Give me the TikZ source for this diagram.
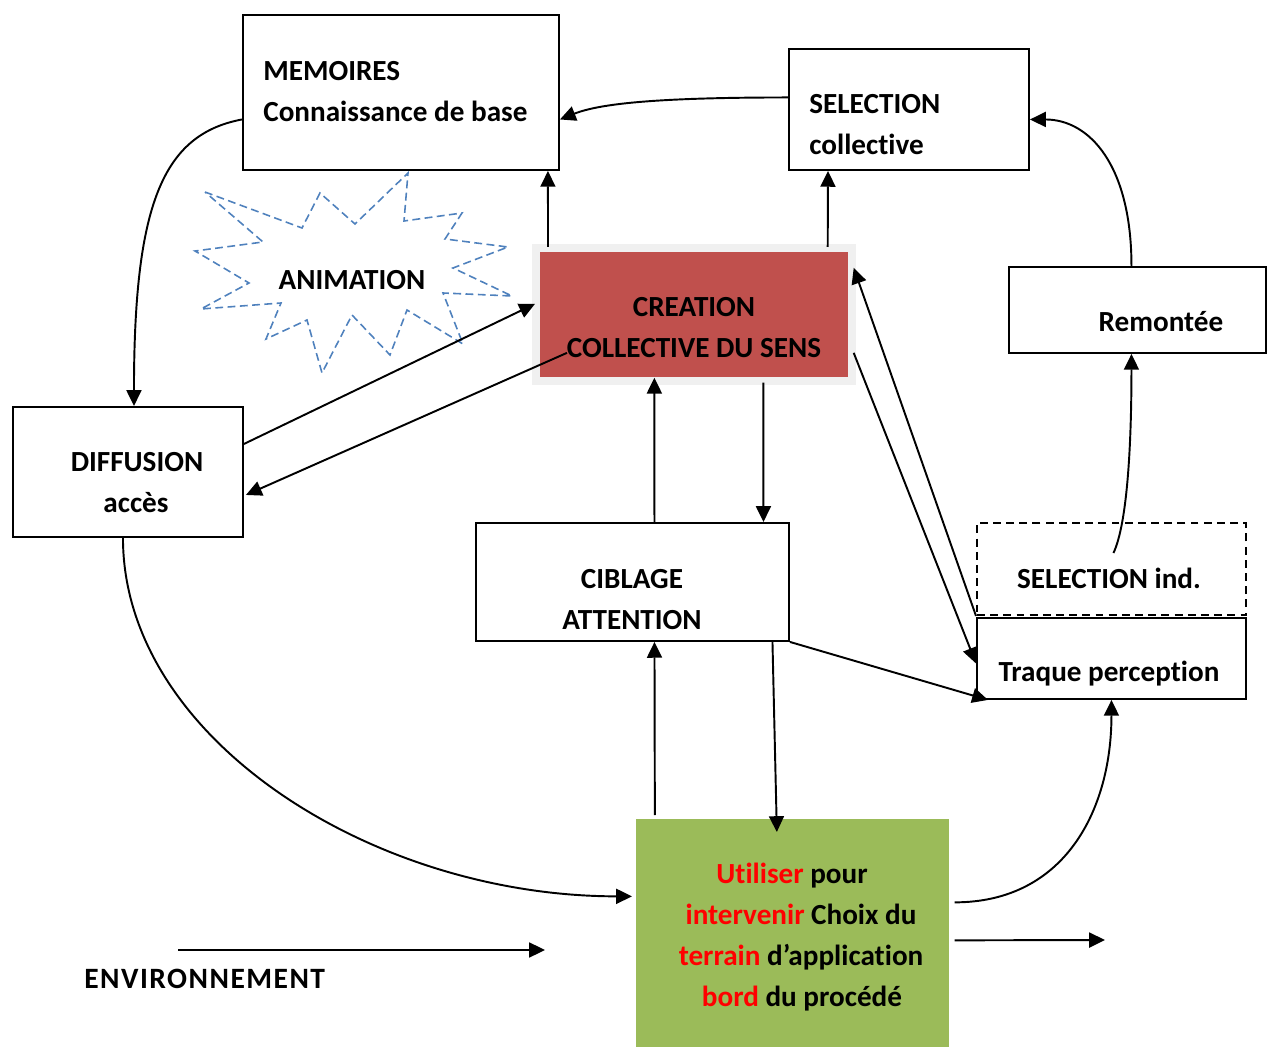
\documentclass[tikz,border=0pt]{standalone}
\usepackage{fontspec}
\setmainfont{Carlito}[Ligatures=CommonOff]
\newfontfamily\widefont{Carlito}[Ligatures=CommonOff, LetterSpace=5]
\usetikzlibrary{arrows.meta}
\definecolor{boxred}{HTML}{C0504D}
\definecolor{boxgreen}{HTML}{9BBB59}
\definecolor{burst}{HTML}{4F81BD}
\definecolor{halo}{HTML}{F0F0F0}
\definecolor{hot}{HTML}{FF0000}
\newdimen\px \px=0.02cm
\begin{document}
\begin{tikzpicture}[x=0.02cm,y=-0.02cm,
  box/.style={draw, line width=1.1pt, inner sep=0pt, anchor=north west},
  plain/.style={inner sep=0pt, anchor=north west},
  txt/.style={font=\bfseries\fontsize{16.6}{19}\selectfont, inner sep=0pt, anchor=base},
  txl/.style={txt, anchor=base west},
  arr/.style={line width=1.1pt, -{Triangle[length=9pt,width=8.5pt]}},
]
\useasboundingbox (0,0) rectangle (1272,1047);

% boxes
\node[box, minimum width=316\px, minimum height=155\px] (mem) at (242,14) {};
\node[box, minimum width=240\px, minimum height=121\px] (selc) at (788,48) {};
\node[plain, fill=halo, minimum width=324\px, minimum height=141\px] (crh) at (532,244) {};
\node[plain, fill=boxred, minimum width=308\px, minimum height=125\px] (crea) at (540,252) {};
\node[box, minimum width=257\px, minimum height=86\px] (rem) at (1008,266) {};
\node[box, minimum width=230\px, minimum height=130\px] (diff) at (12,406) {};
\node[box, minimum width=313\px, minimum height=118\px] (cib) at (475,522) {};
\node[box, dash pattern=on 4.5pt off 3pt, minimum width=269\px, minimum height=92\px] (seli) at (976,522) {};
\node[box, minimum width=269\px, minimum height=81\px] (traq) at (976,617) {};
\node[plain, fill=boxgreen, minimum width=313\px, minimum height=228\px] (act) at (636,819) {};

% star of the animation
\draw[burst, line width=0.9pt, dash pattern=on 4.5pt off 2.5pt, line join=miter]
  (205,192) -- (302,228) -- (320,193) -- (355,224) -- (408,173) -- (404,221)
  -- (462,213) -- (445,239) -- (508,247) -- (453,268) -- (512,296) -- (443,293)
  -- (463,344) -- (407,310) -- (390,355) -- (352,315) -- (322,373) -- (307,320)
  -- (266,339) -- (281,303) -- (201,309) -- (249,283) -- (195,251) -- (263,242)
  -- cycle;

% texts
\node[txl] (memA) at (263,81) {MEMOIRES};
\node[txl] (memB) at (263,122) {Connaissance de base};
\node[txl] (selA) at (809,114) {SELECTION};
\node[txl] (selB) at (809,155) {collective};
\node[txt] (creA) at (694,317) {CREATION};
\node[txt] (creB) at (694,358) {COLLECTIVE DU SENS};
\node[txt] (remA) at (1161,332) {Remontée};
\node[txt] (anim) at (352,290) {ANIMATION};
\node[txt] (difA) at (137,472) {DIFFUSION};
\node[txt] (difB) at (136,513) {accès};
\node[txt] (cibA) at (632,588) {CIBLAGE};
\node[txt] (cibB) at (632,629) {ATTENTION};
\node[txt] (selI) at (1109,588) {SELECTION ind.};
\node[txt] (traA) at (1109,681) {Traque perception};
\node[txt] (actA) at (792,883) {\textcolor{hot}{Utiliser} pour};
\node[txt] (actB) at (801,924) {\textcolor{hot}{intervenir} Choix du};
\node[txt] (actC) at (801,965) {\textcolor{hot}{terrain} d’application};
\node[txt] (actD) at (802,1006) {\textcolor{hot}{bord} du procédé};
\node[txl, font=\widefont\bfseries\fontsize{16.8}{19}\selectfont] (env) at (84,988) {ENVIRONNEMENT};

% free ends of the plain arrows
\coordinate (envA) at (178,950);
\coordinate (envB) at (545,950);
\coordinate (outB) at (1105,940);

% connectors
\draw[arr] ([yshift=-27\px]mem.west) .. controls +(-80,15) and +(0,-200) .. ([xshift=6\px]diff.north);
\draw[arr] ([yshift=12\px]selc.west) .. controls +(-130,0) and +(40,-16) .. ([yshift=-27\px]mem.east);
\draw[arr] ([xshift=16\px,yshift=-3\px]crh.north west) -- ([xshift=-12\px]mem.south east);
\draw[arr] ([xshift=-29\px,yshift=-3\px]crh.north east) -- ([xshift=40\px]selc.south west);
\draw[arr] ([xshift=-6\px]rem.north) .. controls +(0,-100) and +(60,0) .. ([yshift=-10\px]selc.east);
\draw[arr] ([xshift=2\px,yshift=-31\px]seli.north) .. controls +(14,-30) and +(0,90) .. ([xshift=-6\px]rem.south);
\draw[arr] ([yshift=28\px]diff.east) -- ([xshift=3\px,yshift=11\px]crh.west);
\draw[arr] ([xshift=27\px,yshift=-38\px]crea.west) -- ([xshift=2\px,yshift=-23\px]diff.east);
\draw[arr] ([xshift=22\px]cib.north) -- ([xshift=-40\px]crea.south);
\draw[arr] ([xshift=69\px,yshift=-5\px]crea.south) -- ([xshift=131\px]cib.north);
\draw[arr] (seli.south west) -- ([xshift=5\px,yshift=47\px]crea.east);
\draw[arr] ([xshift=5\px,yshift=-38\px]crea.east) -- ([yshift=-5\px]traq.west);
\draw[arr] (cib.south east) -- ([xshift=12\px]traq.south west);
\draw[arr] ([xshift=140\px]cib.south) -- ([xshift=-16\px,yshift=-13\px]act.north);
\draw[arr] ([xshift=-138\px,yshift=4\px]act.north) -- ([xshift=22\px]cib.south);
\draw[arr] ([xshift=-5\px]diff.south) .. controls +(0,200) and +(-260,0) .. ([xshift=-4\px,yshift=37\px]act.west);
\draw[arr] ([xshift=5\px,yshift=31\px]act.east) .. controls +(110,0) and +(0,110) .. (traq.south);
\draw[arr] ([xshift=5\px,yshift=-7\px]act.east) -- (outB);
\draw[arr] (envA) -- (envB);
\end{tikzpicture}
\end{document}
